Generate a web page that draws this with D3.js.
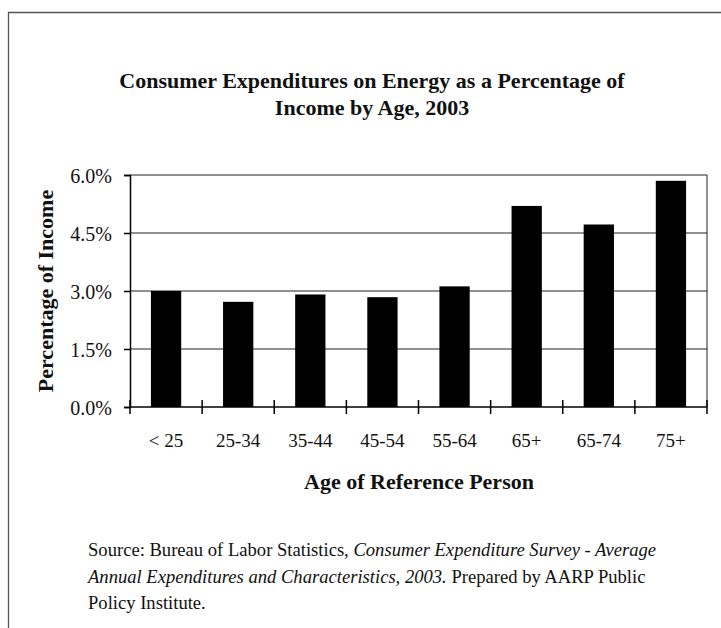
<!DOCTYPE html>
<html>
<head>
<meta charset="utf-8">
<script src="https://cdn.jsdelivr.net/npm/d3@7"></script>
<style>
  body { margin: 0; background: #fff; }
  svg text { font-family: "Liberation Serif", "Tinos", "DejaVu Serif", serif; fill: #111; }
</style>
</head>
<body>
<svg id="chart" width="721" height="628" font-family="Liberation Serif, serif"></svg>
<script>
'use strict';

var categories = ['< 25', '25-34', '35-44', '45-54', '55-64', '65+', '65-74', '75+'],
    values = [3.0, 2.72, 2.91, 2.84, 3.12, 5.2, 4.72, 5.85],
    yTicks = [0, 1.5, 3.0, 4.5, 6.0];

var svg = d3.select('#chart'),
    margin = {left: 130, right: 14, top: 175, bottom: 221},
    width = 721 - margin.left - margin.right,
    height = 628 - margin.top - margin.bottom,
    plot,
    x,
    y;

// outer frame of the scanned page (left and top edges only)
svg.append('path')
    .attr('d', 'M 8.5 640 L 8.5 12.5 L 721 12.5')
    .attr('fill', 'none')
    .attr('stroke', '#555')
    .attr('stroke-width', 1.3);

// title
svg.append('text')
    .attr('x', 372).attr('y', 88)
    .attr('text-anchor', 'middle')
    .attr('font-size', 22).attr('font-weight', 'bold')
    .text('Consumer Expenditures on Energy as a Percentage of');
svg.append('text')
    .attr('x', 372).attr('y', 115)
    .attr('text-anchor', 'middle')
    .attr('font-size', 22).attr('font-weight', 'bold')
    .text('Income by Age, 2003');

plot = svg.append('g')
    .attr('transform', 'translate(' + margin.left + ',' + margin.top + ')');

x = d3.scaleBand()
    .domain(categories)
    .range([0, width])
    .paddingInner(0.58)
    .paddingOuter(0.29);

y = d3.scaleLinear()
    .domain([0, 6])
    .range([height, 0]);

// gridlines
plot.append('g')
    .selectAll('line')
    .data(yTicks.slice(1))
    .enter().append('line')
    .attr('x1', 0).attr('x2', width)
    .attr('y1', function (d) { return y(d); })
    .attr('y2', function (d) { return y(d); })
    .attr('stroke', '#222')
    .attr('stroke-width', 1);

// right border of plot area
plot.append('line')
    .attr('x1', width).attr('x2', width)
    .attr('y1', 0).attr('y2', height)
    .attr('stroke', '#222');

// bars
plot.append('g')
    .selectAll('rect')
    .data(values)
    .enter().append('rect')
    .attr('x', function (d, i) { return x(categories[i]); })
    .attr('width', x.bandwidth())
    .attr('y', function (d) { return y(d); })
    .attr('height', function (d) { return height - y(d); })
    .attr('fill', '#000');

// y axis
var yAxis = plot.append('g')
    .call(d3.axisLeft(y)
        .tickValues(yTicks)
        .tickSize(6)
        .tickPadding(12)
        .tickFormat(function (d) { return d.toFixed(1) + '%'; }));
yAxis.attr('font-family', null).attr('font-size', null);
yAxis.select('.domain').attr('stroke', '#000').attr('stroke-width', 1.5);
yAxis.selectAll('.tick line').attr('stroke', '#000').attr('stroke-width', 1.5);
yAxis.selectAll('.tick text')
    .attr('font-size', 20)
    .attr('dy', '0.35em')
    .attr('fill', '#111');

// x axis line with separator ticks crossing it
var xAxis = plot.append('g')
    .attr('transform', 'translate(0,' + height + ')');
xAxis.append('line')
    .attr('x1', 0).attr('x2', width)
    .attr('stroke', '#000').attr('stroke-width', 1.5);
xAxis.selectAll('line.sep')
    .data(d3.range(categories.length + 1))
    .enter().append('line')
    .attr('class', 'sep')
    .attr('x1', function (i) { return i * x.step(); })
    .attr('x2', function (i) { return i * x.step(); })
    .attr('y1', -7).attr('y2', 7)
    .attr('stroke', '#000').attr('stroke-width', 1.5);
xAxis.selectAll('text')
    .data(categories)
    .enter().append('text')
    .attr('x', function (d) { return x(d) + x.bandwidth() / 2; })
    .attr('y', 40)
    .attr('text-anchor', 'middle')
    .attr('font-size', 19)
    .text(function (d) { return d; });

// axis titles
svg.append('text')
    .attr('transform', 'translate(53,' + (margin.top + height / 2) + ') rotate(-90)')
    .attr('text-anchor', 'middle')
    .attr('font-size', 22).attr('font-weight', 'bold')
    .text('Percentage of Income');
svg.append('text')
    .attr('x', 419).attr('y', 489)
    .attr('text-anchor', 'middle')
    .attr('font-size', 22).attr('font-weight', 'bold')
    .text('Age of Reference Person');

// source note
var note = svg.append('g').attr('font-size', 18.6);
var l1 = note.append('text').attr('x', 88).attr('y', 556);
l1.append('tspan').text('Source: Bureau of Labor Statistics, ');
l1.append('tspan').attr('font-style', 'italic').text('Consumer Expenditure Survey - Average');
var l2 = note.append('text').attr('x', 88).attr('y', 583);
l2.append('tspan').attr('font-style', 'italic').text('Annual Expenditures and Characteristics, 2003.');
l2.append('tspan').text('  Prepared by AARP Public');
note.append('text').attr('x', 88).attr('y', 609).text('Policy Institute.');
</script>
</body>
</html>
